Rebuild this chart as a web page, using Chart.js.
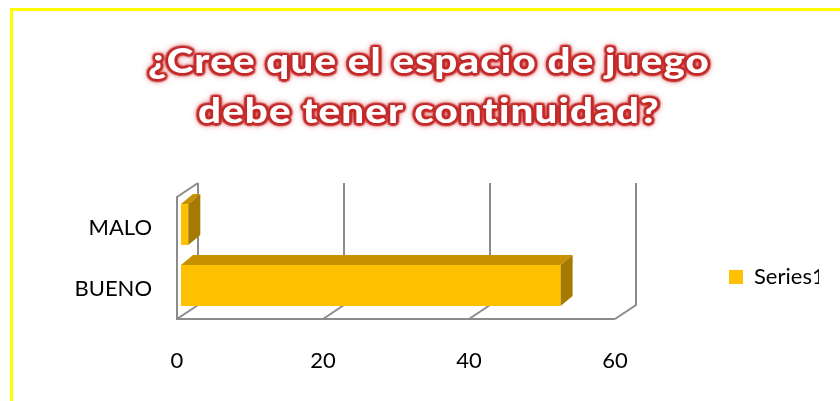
<!DOCTYPE html>
<html>
<head>
<meta charset="utf-8">
<script src="https://cdn.jsdelivr.net/npm/chart.js"></script>
<style>
  body { margin: 0; background: #fff; }
  .wrap { position: relative; width: 840px; height: 401px; overflow: hidden; }
  .frame { position: absolute; left: 10px; top: 8px; width: 900px; height: 500px;
           border-top: 3px solid #ffff00; border-left: 3px solid #ffff00; }
  .title { position: absolute; left: 0; top: 34px; width: 858px; text-align: center;
           font: 900 35px Lato, sans-serif; letter-spacing: 1px; line-height: 50px; color: #fff;
           transform: scaleX(1.15); transform-origin: 429px 0;
           text-shadow: 2.5px 0 1.5px #c42a2a, -2.5px 0 1.5px #c42a2a, 0 2.5px 1.5px #c42a2a, 0 -2.5px 1.5px #c42a2a,
                        2px 2px 1.5px #c42a2a, -2px -2px 1.5px #c42a2a, 2px -2px 1.5px #c42a2a, -2px 2px 1.5px #c42a2a,
                        0 0 6px #d03434, 0 0 8px rgba(208, 52, 52, 0.8); }
  canvas { position: absolute; left: 0; top: 0; }
</style>
</head>
<body>
<div class="wrap">
  <div class="frame"></div>
  <canvas id="chart" width="840" height="401"></canvas>
  <div class="title">¿Cree que el espacio de juego<br>debe tener continuidad?</div>
</div>
<script>
// data
const categories = ['MALO', 'BUENO'];
const series1 = [1, 52];
const seriesName = 'Series1';
const xMin = 0, xMax = 60, xStep = 20;

// look
const BAR = '#FFC000', BAR_TOP = '#C69200', BAR_SIDE = '#A67A00';
const GRID = '#8C8C8C';
const WALL_DX = 21, WALL_DY = -14;   // depth of the walls
const BAR_DX = 12, BAR_DY = -10;     // depth of the bars
const BAR_SHIFT_X = 4, BAR_SHIFT_Y = -3;
const FONT = { family: 'Lato, sans-serif', size: 22 };

// 3d walls + bar faces
const fake3d = {
  id: 'fake3d',
  afterLayout(chart) {
    // legend sits further right and a bit lower than chart.js puts it
    const lg = chart.legend;
    const w = lg.width, h = lg.bottom - lg.top;
    lg.left = 719; lg.right = lg.left + w;
    lg.top = 277 - h / 2; lg.bottom = lg.top + h;
  },
  beforeDatasetsDraw(chart) {
    const { ctx, chartArea: a } = chart;
    const xs = chart.scales.x;
    ctx.save();
    ctx.strokeStyle = GRID;
    ctx.lineWidth = 2;
    ctx.beginPath();
    xs.ticks.forEach(t => {
      const fx = xs.getPixelForValue(t.value);
      ctx.moveTo(fx, a.bottom);
      ctx.lineTo(fx + WALL_DX, a.bottom + WALL_DY);
      ctx.lineTo(fx + WALL_DX, a.top + WALL_DY);
    });
    ctx.moveTo(a.right, a.bottom);
    ctx.lineTo(a.left, a.bottom);
    ctx.lineTo(a.left, a.top);
    ctx.lineTo(a.left + WALL_DX, a.top + WALL_DY);
    ctx.stroke();
    ctx.restore();

    ctx.save();
    ctx.translate(BAR_SHIFT_X, BAR_SHIFT_Y);
  },
  afterDatasetsDraw(chart) {
    const { ctx } = chart;
    chart.getDatasetMeta(0).data.forEach(bar => {
      const { x, y, base, height } = bar.getProps(['x', 'y', 'base', 'height'], true);
      const top = y - height / 2, bottom = y + height / 2;
      ctx.fillStyle = BAR_TOP;
      ctx.beginPath();
      ctx.moveTo(base, top);
      ctx.lineTo(base + BAR_DX, top + BAR_DY);
      ctx.lineTo(x + BAR_DX, top + BAR_DY);
      ctx.lineTo(x, top);
      ctx.closePath();
      ctx.fill();
      ctx.fillStyle = BAR_SIDE;
      ctx.beginPath();
      ctx.moveTo(x, top);
      ctx.lineTo(x + BAR_DX, top + BAR_DY);
      ctx.lineTo(x + BAR_DX, bottom + BAR_DY);
      ctx.lineTo(x, bottom);
      ctx.closePath();
      ctx.fill();
    });
    ctx.restore();
  }
};

new Chart(document.getElementById('chart'), {
  type: 'bar',
  data: {
    labels: categories,
    datasets: [{
      label: seriesName,
      data: series1,
      backgroundColor: BAR,
      borderWidth: 0,
      categoryPercentage: 1,
      barPercentage: 0.67,
      clip: false
    }]
  },
  options: {
    indexAxis: 'y',
    responsive: false,
    animation: false,
    devicePixelRatio: 1,
    layout: { padding: { left: 10, right: 125, top: 197, bottom: 32 } },
    plugins: {
      title: { display: false },
      tooltip: { enabled: false },
      legend: {
        position: 'right',
        maxWidth: 100,
        labels: { boxWidth: 14, boxHeight: 14, color: '#000', font: FONT }
      }
    },
    scales: {
      x: {
        min: xMin, max: xMax,
        grid: { display: false, drawTicks: false },
        border: { display: false },
        ticks: { stepSize: xStep, color: '#000', font: FONT, padding: 29 },
        afterFit(s) { s.height = 50; }
      },
      y: {
        grid: { display: false, drawTicks: false },
        border: { display: false },
        ticks: { color: '#000', font: FONT, padding: 25 },
        afterFit(s) { s.width = 167; }
      }
    }
  },
  plugins: [fake3d]
});
</script>
</body>
</html>
